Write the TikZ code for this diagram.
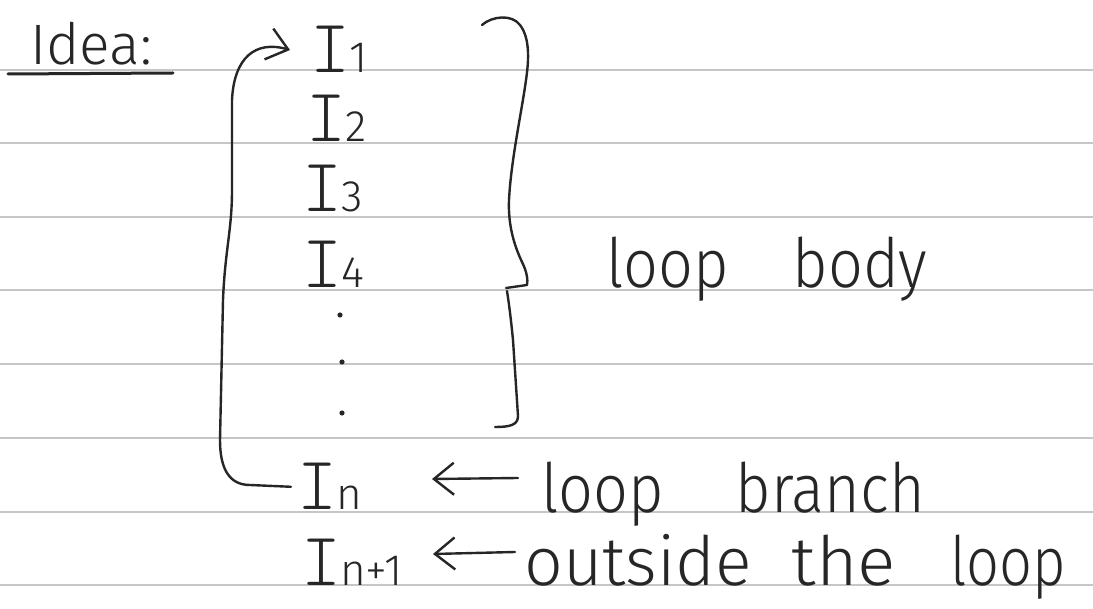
\documentclass[tikz,border=0pt]{standalone}
\usepackage{fontspec}
\setmainfont{Fira Sans}[UprightFont={* Light}]
\newfontfamily\labelfont{Fira Sans}[UprightFont={* Light}, FakeStretch=0.9]
\newfontfamily\instrfont{lmmonolt10-regular.otf}
\usetikzlibrary{arrows.meta,calc}
\definecolor{ink}{HTML}{262626}
\definecolor{ruling}{HTML}{C6C6C6}
% instruction letter with its small index
\newcommand{\instr}[1]{{\fontsize{76}{76}\instrfont I}\kern-1pt{\fontsize{44}{44}\selectfont #1}}
\tikzset{
  hand/.style={draw=ink, line width=2.4pt, line cap=round, line join=round},
  txt/.style={text=ink, inner sep=0pt, anchor=base west, font=\fontsize{68}{68}\selectfont},
  lbl/.style={txt, font=\fontsize{68}{68}\labelfont},
  barb/.style={hand, -{Straight Barb[length=20pt,width=32pt]}},
}
\begin{document}
\begin{tikzpicture}[x=1pt,y=-1pt]
\useasboundingbox (0,0) rectangle (1093,609);
\fill[white] (0,0) rectangle (1093,609);
% ruled notebook lines
\foreach \y in {70,143,217,290,364,438,512,585}
  \draw[ruling, line width=2.2pt] (0,\y) -- (1093,\y);

% heading
\node[txt, font=\fontsize{57}{57}\selectfont] (idea) at (30,65) {Idea:};
\draw[hand, line width=3pt] (8,74) -- (173,73);

% instructions
\node[txt] (i1) at (310,73) {\instr{1}};
\node[txt] (i2) at (306,142) {\instr{2}};
\node[txt] (i3) at (302,212) {\instr{3}};
\node[txt] (i4) at (302,288) {\instr{4}};
\fill[ink] (340,315) circle (2.6pt) (342,362) circle (2.6pt) (342,413) circle (2.6pt);
\node[txt] (in) at (297,510) {\instr{n}};
\node[txt] (in1) at (301,585) {\instr{n+1}};

% labels
\node[lbl] (body) at (606,288) {loop\hspace{64pt}body};
\node[lbl] (branch) at (541,512) {loop\hspace{72pt}branch};
\node[lbl] (outside) at (524,585)
  {{\addfontfeature{FakeStretch=1.0}outside}\hspace{40pt}{\addfontfeature{FakeStretch=1.05}the}\hspace{54pt}{\addfontfeature{FakeStretch=0.85}loop}};

% brace around the loop body
\draw[hand] (482,25) .. controls (492,16) and (512,14) .. (520,25)
  .. controls (530,38) and (529,60) .. (526,80)
  .. controls (522,110) and (511,160) .. (509,200)
  .. controls (508,225) and (514,245) .. (522,262)
  .. controls (527,272) and (528,280) .. (527,285) -- (506,288);
\draw[hand] (507,291) .. controls (510,310) and (512,330) .. (513,340)
  -- (518,416) .. controls (518,425) and (510,427) .. (495,427);

% back edge from the loop branch to the first instruction
\coordinate (tip1) at (290,50);
\draw[barb] ([xshift=-6pt]in.west) -- (250,485)
  .. controls (230,485) and (220,470) .. (220,440)
  -- (223,300) .. controls (225,250) and (232,230) .. (232,190)
  -- (232,100) .. controls (234,58) and (255,40) .. (tip1);

% pointers from the labels to the instructions
\coordinate (tipb) at (432,479);
\coordinate (tipo) at (433,554);
\draw[barb] ([shift={(-23,-34)}]branch.base west) -- (tipb);
\draw[barb] ([shift={(-9,-33)}]outside.base west) -- (tipo);
\end{tikzpicture}
\end{document}
